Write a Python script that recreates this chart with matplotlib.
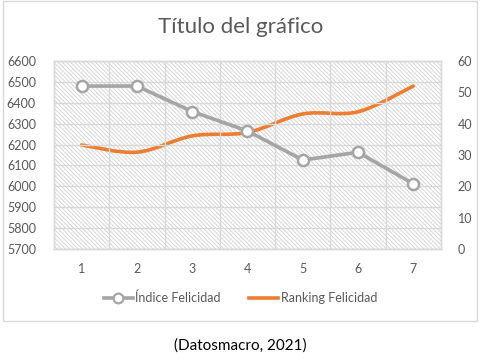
import numpy as np
import matplotlib.pyplot as plt
from matplotlib.path import Path
from matplotlib.patches import PathPatch, Rectangle
from matplotlib.lines import Line2D

#%% - datos
categorias = [1, 2, 3, 4, 5, 6, 7]
indice_felicidad = [6480, 6480, 6358, 6265, 6126, 6163, 6012]
ranking_felicidad = [33.2, 30.9, 36.1, 37.2, 43.1, 43.8, 52.0]

titulo = "Título del gráfico"
nombres = ["Índice Felicidad", "Ranking Felicidad"]
fuente = "(Datosmacro, 2021)"

#%% - estilo
plt.rcParams['font.family'] = ['Lato', 'DejaVu Sans']
plt.rcParams['hatch.linewidth'] = 0.7
gris_texto = '#595959'
gris_rejilla = '#d9d9d9'
gris_serie = '#a5a5a5'
naranja = '#ed7d31'


# curva suavizada (tipo Excel) a partir de los puntos, con Bezier cúbicas
def camino_suave(x, y):
    p = np.column_stack([x, y]).astype(float)
    n = len(p)
    verts = [p[0]]
    codes = [Path.MOVETO]
    for i in range(n - 1):
        p0 = p[i - 1] if i > 0 else p[i]
        p3 = p[i + 2] if i + 2 < n else p[i + 1]
        c1 = p[i] + (p[i + 1] - p0) / 6
        c2 = p[i + 1] - (p3 - p[i]) / 6
        verts += [c1, c2, p[i + 1]]
        codes += [Path.CURVE4] * 3
    return Path(verts, codes)


fig = plt.figure(figsize=(4.81, 3.64), dpi=100)
fig.patches.append(Rectangle((2.5 / 481, 1 - 321 / 364), 475 / 481, 320 / 364,
                             transform=fig.transFigure, fill=False,
                             edgecolor=gris_rejilla, lw=1))

ax = fig.add_axes([54 / 481, 1 - 249 / 364, 387 / 481, 188 / 364])
ax2 = ax.twinx()
ax.set_zorder(ax2.get_zorder() + 1)
ax.patch.set_visible(False)

# fondo rayado
ax2.add_patch(Rectangle((0, 0), 1, 1, transform=ax2.transAxes, facecolor='white',
                        edgecolor='#d6d6d6', lw=0, hatch='\\' * 8, zorder=0))

# serie principal
ax.plot(categorias, indice_felicidad, color=gris_serie, lw=2.6, marker='o',
        markersize=8, markerfacecolor='white', markeredgecolor=gris_serie,
        markeredgewidth=1.8, zorder=3, clip_on=False)

# serie secundaria (línea suavizada)
ax2.add_patch(PathPatch(camino_suave(categorias, ranking_felicidad), facecolor='none',
                        edgecolor=naranja, lw=2.6, capstyle='round', zorder=2))

ax.set_xlim(0.5, 7.5)
ax.set_ylim(5700, 6600)
ax2.set_ylim(0, 60)
ax.set_yticks(np.arange(5700, 6601, 100))
ax2.set_yticks(np.arange(0, 61, 10))
ax.set_xticks(categorias)
ax.set_xticks(np.arange(1.5, 7, 1), minor=True)

ax.grid(True, axis='y', which='major', color=gris_rejilla, lw=1)
ax.grid(True, axis='x', which='minor', color=gris_rejilla, lw=1)
ax.set_axisbelow(True)

for a in (ax, ax2):
    for s in a.spines.values():
        s.set_color(gris_rejilla)
        s.set_linewidth(1)
    a.tick_params(which='both', length=0, labelsize=9, labelcolor=gris_texto)
ax.tick_params(axis='y', pad=13)
ax.tick_params(axis='x', pad=10)
ax2.tick_params(axis='y', pad=12)

fig.text(0.5, 1 - 27 / 364, titulo, ha='center', va='center', fontsize=16,
         color=gris_texto)

manejadores = [
    Line2D([], [], color=gris_serie, lw=2.6, marker='o', markersize=7,
           markerfacecolor='white', markeredgecolor=gris_serie, markeredgewidth=1.6),
    Line2D([], [], color=naranja, lw=2.6),
]
fig.legend(manejadores, nombres, loc='center', bbox_to_anchor=(0.5, 1 - 298 / 364),
           ncol=2, frameon=False, fontsize=9, labelcolor=gris_texto,
           handlelength=2.3, handletextpad=0.2, columnspacing=2.3)

fig.text(0.5, 1 - 346 / 364, fuente, ha='center', va='center', fontsize=11,
         color='black')

fig.savefig('out.png', dpi=100)
